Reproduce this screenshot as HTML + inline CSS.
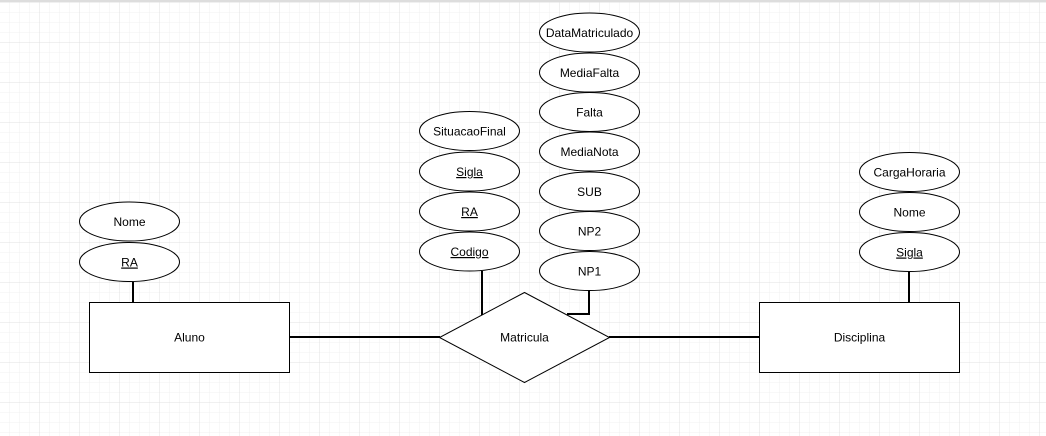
<!DOCTYPE html>
<html><head><meta charset="utf-8"><style>
html,body{margin:0;padding:0;background:#fff;}
svg{display:block;}
text{font-family:"Liberation Sans",Arial,sans-serif;font-size:12px;fill:#000;}
</style></head><body>
<svg width="1046" height="436" viewBox="0 0 1046 436" xmlns="http://www.w3.org/2000/svg">
<defs>
<pattern id="minor" width="10" height="10" patternUnits="userSpaceOnUse" x="-0.5" y="2.5">
<path d="M10 0V10M0 10H10" stroke="#f1f1f1" stroke-width="1" fill="none"/>
</pattern>
<pattern id="major" width="40" height="40" patternUnits="userSpaceOnUse" x="-0.5" y="2.5">
<path d="M40 0V40M0 40H40" stroke="#e0e0e0" stroke-width="1" fill="none"/>
</pattern>
</defs>
<rect width="1046" height="436" fill="#fff"/>
<rect width="1046" height="436" fill="url(#minor)"/>
<rect width="1046" height="436" fill="url(#major)"/>
<rect x="0" y="0" width="1046" height="2" fill="#ddd"/>
<g stroke="#000" stroke-width="2" fill="none">
<line x1="133" y1="282" x2="133" y2="302"/>
<line x1="909" y1="272" x2="909" y2="302"/>
<line x1="482" y1="271" x2="482" y2="315"/>
<polyline points="589,291 589,314 567,314"/>
<line x1="290" y1="337" x2="440" y2="337"/>
<line x1="609" y1="337" x2="760" y2="337"/>
</g>
<g stroke="#000" stroke-width="1" fill="#fff">
<rect x="89.5" y="302.5" width="200" height="70"/>
<rect x="759.5" y="302.5" width="200" height="70"/>
<polygon points="524.5,292.5 609.5,337.5 524.5,382.5 439.5,337.5"/>
<ellipse cx="129.5" cy="221.5" rx="50" ry="19.5"/>
<ellipse cx="129.5" cy="262" rx="50" ry="19.5"/>
<ellipse cx="909.5" cy="172" rx="50" ry="19.5"/>
<ellipse cx="909.5" cy="212" rx="50" ry="19.5"/>
<ellipse cx="909.5" cy="252" rx="50" ry="19.5"/>
<ellipse cx="469.5" cy="131" rx="50" ry="19.5"/>
<ellipse cx="469.5" cy="171.5" rx="50" ry="19.5"/>
<ellipse cx="469.5" cy="211.5" rx="50" ry="19.5"/>
<ellipse cx="469.5" cy="251.5" rx="50" ry="19.5"/>
<ellipse cx="589.5" cy="32.5" rx="50" ry="19.5"/>
<ellipse cx="589.5" cy="72.5" rx="50" ry="19.5"/>
<ellipse cx="589.5" cy="112" rx="50" ry="19.5"/>
<ellipse cx="589.5" cy="151.5" rx="50" ry="19.5"/>
<ellipse cx="589.5" cy="191.5" rx="50" ry="19.5"/>
<ellipse cx="589.5" cy="231" rx="50" ry="19.5"/>
<ellipse cx="589.5" cy="271" rx="50" ry="19.5"/>
</g>
<g text-anchor="middle">
<text x="189.5" y="341.5">Aluno</text>
<text x="859.5" y="341.5">Disciplina</text>
<text x="524.5" y="341.5">Matricula</text>
<text x="129.5" y="226">Nome</text>
<text x="129.5" y="266.5" text-decoration="underline">RA</text>
<text x="909.5" y="176.5">CargaHoraria</text>
<text x="909.5" y="216.5">Nome</text>
<text x="909.5" y="256.5" text-decoration="underline">Sigla</text>
<text x="469.5" y="135.5">SituacaoFinal</text>
<text x="469.5" y="176" text-decoration="underline">Sigla</text>
<text x="469.5" y="216" text-decoration="underline">RA</text>
<text x="469.5" y="256" text-decoration="underline">Codigo</text>
<text x="589.5" y="37">DataMatriculado</text>
<text x="589.5" y="77">MediaFalta</text>
<text x="589.5" y="116.5">Falta</text>
<text x="589.5" y="156">MediaNota</text>
<text x="589.5" y="196">SUB</text>
<text x="589.5" y="235.5">NP2</text>
<text x="589.5" y="275.5">NP1</text>
</g>
</svg>
</body></html>
